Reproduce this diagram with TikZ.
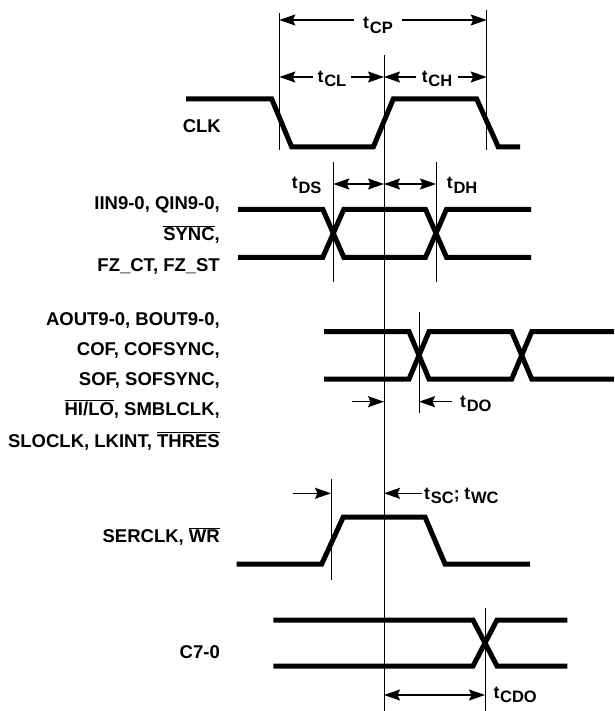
\documentclass[tikz,border=0pt]{standalone}
\usepackage{fontspec}
\setmainfont{Liberation Sans}
\usetikzlibrary{arrows.meta}

\newcommand{\sig}[1]{\ensuremath{\overline{\hbox{#1}}}}
\newcommand{\tm}[1]{t\kern0.8pt\raisebox{-4.5pt}{\fontsize{16.5}{16.5}\selectfont #1}}

\begin{document}
\begin{tikzpicture} [x = 1pt, y = -1pt,
    wave/.style = {line width = 5pt},
    guide/.style = {line width = 1pt},
    dim/.style = {line width = 1.5pt, -{Stealth[length = 16pt, width = 11pt, inset = 2.5pt]}},
    dimboth/.style = {line width = 1.5pt, {Stealth[length = 16pt, width = 11pt, inset = 2.5pt]}-{Stealth[length = 16pt, width = 11pt, inset = 2.5pt]}},
    lbl/.style = {anchor = base east, inner sep = 0pt, font = \fontsize{18.5}{18.5}\bfseries},
    tlbl/.style = {inner sep = 0pt, font = \fontsize{17.5}{17.5}\bfseries}]

    \useasboundingbox (0,0) rectangle (614,711);

    % thin reference lines
    \draw [guide] (384,55) -- (384,711);
    \draw [guide] (279.3,13) -- (279.3,150);
    \draw [guide] (486.7,10) -- (486.7,150);
    \draw [guide] (333.3,162) -- (333.3,282);
    \draw [guide] (436,162) -- (436,282);
    \draw [guide] (419,312) -- (419,413);
    \draw [guide] (331,479) -- (331,580);
    \draw [guide] (485,608) -- (485,711);

    % signal names
    \node [lbl] (clk) at (221,132.5) {CLK};
    \node [lbl] (din1) at (220,210) {IIN9-0, QIN9-0,};
    \node [lbl] (din2) at (220,240.5) {\sig{SYNC},};
    \node [lbl] (din3) at (220,271) {FZ\_CT, FZ\_ST};
    \node [lbl] (dout1) at (220,325.5) {AOUT9-0, BOUT9-0,};
    \node [lbl] (dout2) at (220,355.5) {COF, COFSYNC,};
    \node [lbl] (dout3) at (220,385.5) {SOF, SOFSYNC,};
    \node [lbl] (dout4) at (220,415.5) {\sig{HI/LO}, SMBLCLK,};
    \node [lbl] (dout5) at (220,447) {SLOCLK, LKINT, \sig{THRES}};
    \node [lbl] (serclk) at (220,542) {SERCLK, \sig{WR}};
    \node [lbl] (cout) at (220,658) {C7-0};

    % waveforms
    \draw [wave] (186,99) -- (271.7,99) -- (291.7,147) -- (373.3,147) -- (393.3,99) -- (476.7,99) -- (498.3,147) -- (520,147);

    \draw [wave] (238,209.3) -- (322.8,209.3) -- (343.8,257.3) -- (425.5,257.3) -- (446.5,209.3) -- (531,209.3);
    \draw [wave] (238,257.3) -- (322.8,257.3) -- (343.8,209.3) -- (425.5,209.3) -- (446.5,257.3) -- (531,257.3);

    \draw [wave] (324,331.7) -- (409,331.7) -- (429,379) -- (511.7,379) -- (531.7,331.7) -- (614,331.7);
    \draw [wave] (324,379) -- (409,379) -- (429,331.7) -- (511.7,331.7) -- (531.7,379) -- (614,379);

    \draw [wave] (236.7,564) -- (321.7,564) -- (343.3,517) -- (425,517) -- (445,564) -- (530,564);

    \draw [wave] (273.3,620) -- (473,620) -- (497,666) -- (567.3,666);
    \draw [wave] (273.3,666) -- (473,666) -- (497,620) -- (567.3,620);

    % timing arrows
    \draw [dimboth] (279.3,20) -- (486.7,20);
    \node [tlbl, fill = white, inner xsep = 9pt] (tcp) at (378,25.5) {\tm{CP}};
    \draw [dimboth] (279.3,77) -- (384,77);
    \node [tlbl, fill = white, inner xsep = 5pt] (tcl) at (332,79) {\tm{CL}};
    \draw [dimboth] (384,77) -- (486.7,77);
    \node [tlbl, fill = white, inner xsep = 6pt] (tch) at (437,79) {\tm{CH}};

    \draw [dimboth] (333.3,184) -- (384,184);
    \draw [dimboth] (384,184) -- (436,184);
    \node [tlbl, anchor = east] (tds) at (321.7,185.5) {\tm{DS}};
    \node [tlbl, anchor = west] (tdh) at (446.7,185.5) {\tm{DH}};

    \draw [dim] (351.7,401.7) -- (384,401.7);
    \draw [dim] (451.7,401.7) -- (419,401.7);
    \node [tlbl, anchor = west] (tdo) at (460,404) {\tm{DO}};

    \draw [dim] (293,493.3) -- (331,493.3);
    \draw [dim] (421.7,493.3) -- (384,493.3);
    \node [tlbl, anchor = west] (tsc) at (424,496) {\tm{SC}; \tm{WC}};

    \draw [dimboth] (384,695) -- (485,695);
    \node [tlbl, anchor = west] (tcdo) at (493.3,695) {\tm{CDO}};

\end{tikzpicture}
\end{document}
